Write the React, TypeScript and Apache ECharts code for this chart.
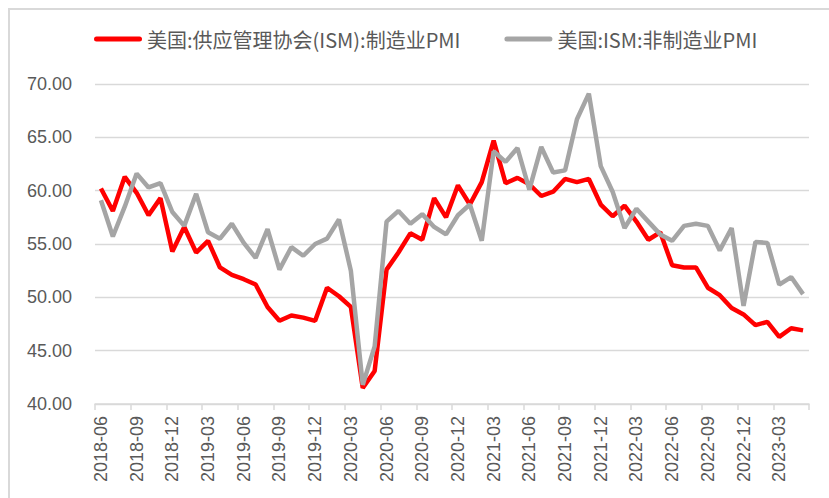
import React, { useEffect, useRef } from "react";
import * as echarts from "echarts";

const categories = [
  "2018-06", "2018-07", "2018-08", "2018-09", "2018-10", "2018-11", "2018-12",
  "2019-01", "2019-02", "2019-03", "2019-04", "2019-05", "2019-06", "2019-07", "2019-08", "2019-09", "2019-10", "2019-11", "2019-12",
  "2020-01", "2020-02", "2020-03", "2020-04", "2020-05", "2020-06", "2020-07", "2020-08", "2020-09", "2020-10", "2020-11", "2020-12",
  "2021-01", "2021-02", "2021-03", "2021-04", "2021-05", "2021-06", "2021-07", "2021-08", "2021-09", "2021-10", "2021-11", "2021-12",
  "2022-01", "2022-02", "2022-03", "2022-04", "2022-05", "2022-06", "2022-07", "2022-08", "2022-09", "2022-10", "2022-11", "2022-12",
  "2023-01", "2023-02", "2023-03", "2023-04", "2023-05",
];

const manufacturingPMI = [
  60.2, 58.1, 61.3, 59.8, 57.7, 59.3, 54.3,
  56.6, 54.2, 55.3, 52.8, 52.1, 51.7, 51.2, 49.1, 47.8, 48.3, 48.1, 47.8,
  50.9, 50.1, 49.1, 41.5, 43.1, 52.6, 54.2, 56.0, 55.4, 59.3, 57.5, 60.5,
  58.7, 60.8, 64.7, 60.7, 61.2, 60.6, 59.5, 59.9, 61.1, 60.8, 61.1, 58.7,
  57.6, 58.6, 57.1, 55.4, 56.1, 53.0, 52.8, 52.8, 50.9, 50.2, 49.0, 48.4,
  47.4, 47.7, 46.3, 47.1, 46.9,
];

const nonManufacturingPMI = [
  59.1, 55.7, 58.5, 61.6, 60.3, 60.7, 58.0,
  56.7, 59.7, 56.1, 55.5, 56.9, 55.1, 53.7, 56.4, 52.6, 54.7, 53.9, 55.0,
  55.5, 57.3, 52.5, 41.8, 45.4, 57.1, 58.1, 56.9, 57.8, 56.6, 55.9, 57.7,
  58.7, 55.3, 63.7, 62.7, 64.0, 60.1, 64.1, 61.7, 61.9, 66.7, 69.1, 62.3,
  59.9, 56.5, 58.3, 57.1, 55.9, 55.3, 56.7, 56.9, 56.7, 54.4, 56.5, 49.2,
  55.2, 55.1, 51.2, 51.9, 50.3,
];

const seriesNames = ["美国:供应管理协会(ISM):制造业PMI", "美国:ISM:非制造业PMI"];
const seriesColors = ["#FF0000", "#A5A5A5"];

const yMin = 40;
const yMax = 70;
const yInterval = 5;

const capsule = "path://M2.5,0 H45.5 A2.5,2.5 0 0 1 45.5,5 H2.5 A2.5,2.5 0 0 1 2.5,0 Z";

export default function App() {
  const ref = useRef<HTMLDivElement>(null);
  useEffect(() => {
    if (!ref.current) return;
    const chart = echarts.init(ref.current, undefined, { renderer: "svg" });
    const latin = "'Liberation Sans', Arial, sans-serif";
    chart.setOption({
      animation: false,
      backgroundColor: "#ffffff",
      graphic: [
        {
          type: "rect",
          shape: { x: 9, y: 9, width: 1000, height: 1000 },
          style: { fill: "none", stroke: "#D9D9D9", lineWidth: 2 },
          silent: true,
        },
      ],
      legend: {
        left: 94,
        top: 29,
        padding: 0,
        itemWidth: 48,
        itemHeight: 5,
        itemGap: 44,
        icon: capsule,
        textStyle: {
          color: "#595959",
          fontSize: 20,
          fontFamily: "'Noto Sans CJK SC', sans-serif",
          lineHeight: 20,
        },
        data: seriesNames,
      },
      grid: { left: 95, right: 20, top: 84, bottom: 94, containLabel: false },
      xAxis: {
        type: "category",
        data: categories,
        boundaryGap: true,
        axisLine: { show: true, lineStyle: { color: "#D9D9D9", width: 1.5 } },
        axisTick: { show: true, interval: 2, length: 6, lineStyle: { color: "#D9D9D9", width: 1.5 } },
        axisLabel: {
          interval: 2,
          rotate: 90,
          margin: 12,
          color: "#595959",
          fontSize: 18,
          fontFamily: latin,
        },
        splitLine: { show: false },
      },
      yAxis: {
        type: "value",
        min: yMin,
        max: yMax,
        interval: yInterval,
        axisLine: { show: false },
        axisTick: { show: false },
        axisLabel: {
          margin: 23,
          color: "#595959",
          fontSize: 18,
          fontFamily: latin,
          formatter: (v: number) => v.toFixed(2),
        },
        splitLine: { show: true, lineStyle: { color: "#D9D9D9", width: 1.3 } },
      },
      series: [
        {
          name: seriesNames[0],
          type: "line",
          data: manufacturingPMI,
          symbol: "none",
          lineStyle: { color: seriesColors[0], width: 4.5 },
          itemStyle: { color: seriesColors[0] },
        },
        {
          name: seriesNames[1],
          type: "line",
          data: nonManufacturingPMI,
          symbol: "none",
          lineStyle: { color: seriesColors[1], width: 4.5 },
          itemStyle: { color: seriesColors[1] },
        },
      ],
    });
    return () => chart.dispose();
  }, []);
  return (
    <div
      ref={ref}
      style={{ position: "absolute", left: 0, top: 0, width: 829, height: 498 }}
    />
  );
}
